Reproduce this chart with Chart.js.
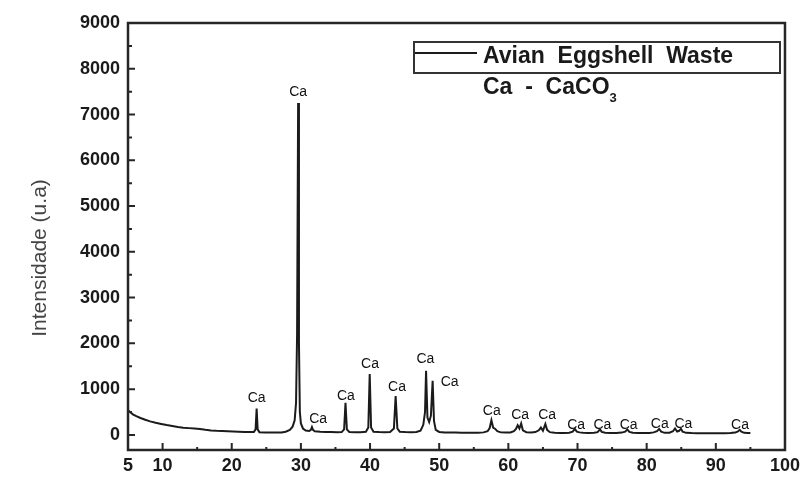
<!DOCTYPE html>
<html>
<head>
<meta charset="utf-8">
<script src="https://cdn.jsdelivr.net/npm/chart.js@4.4.0/dist/chart.umd.min.js"></script>
<style>
  html, body { margin: 0; padding: 0; background: #ffffff; }
  #wrap { width: 805px; height: 484px; }
</style>
</head>
<body>
<div id="wrap"><canvas id="xrd" width="805" height="484"></canvas></div>
<script>
// X-ray diffraction pattern of avian eggshell waste (calcite, CaCO3)
const seriesName = 'Avian Eggshell Waste';
const phaseLabel = 'Ca  -  CaCO';
const phaseSubscript = '3';
const yAxisTitle = 'Intensidade (u.a)';

// 2θ (degrees)
const twoTheta = [
  5.0, 5.3, 5.7, 6.2, 6.8, 7.5, 8.2, 9.0, 9.8, 10.6, 11.4, 12.2, 13.0, 13.8, 14.6,
  15.4, 16.2, 17.0, 17.8, 18.6, 19.4, 20.2, 21.0, 21.8, 22.6, 23.2, 23.45, 23.6, 23.75, 24.0,
  24.8, 25.6, 26.4, 27.2, 27.8, 28.4, 28.8, 29.1, 29.3, 29.45, 29.6, 29.72, 29.85, 30.0, 30.3,
  30.7, 31.2, 31.45, 31.6, 31.75, 32.0, 32.8, 33.6, 34.4, 35.2, 35.9, 36.25, 36.45, 36.65, 37.0,
  37.8, 38.6, 39.4, 39.75, 39.95, 40.15, 40.5, 41.3, 42.1, 42.9, 43.45, 43.7, 43.95, 44.3, 45.1,
  45.9, 46.7, 47.3, 47.7, 47.95, 48.1, 48.3, 48.55, 48.8, 49.05, 49.25, 49.5, 50.0, 50.8, 51.6,
  52.4, 53.2, 54.0, 54.8, 55.6, 56.4, 57.0, 57.3, 57.55, 57.8, 58.1, 58.4, 58.9, 59.6, 60.3,
  60.8, 61.1, 61.35, 61.6, 61.85, 62.1, 62.6, 63.3, 63.9, 64.4, 64.7, 65.0, 65.35, 65.6, 66.0,
  66.7, 67.4, 68.1, 68.8, 69.3, 69.6, 69.9, 70.3, 70.8, 71.6, 72.4, 72.9, 73.25, 73.5, 74.0,
  74.8, 75.6, 76.4, 76.9, 77.2, 77.5, 78.0, 78.8, 79.6, 80.4, 81.0, 81.5, 81.8, 82.1, 82.6,
  83.3, 83.8, 84.1, 84.4, 84.7, 84.95, 85.2, 85.7, 86.5, 87.3, 88.1, 88.9, 89.7, 90.5, 91.3,
  92.1, 92.8, 93.2, 93.45, 93.7, 94.1, 94.6, 95.0
];

// Intensity (arbitrary units)
const intensity = [
  540, 500, 450, 410, 370, 330, 295, 265, 240, 215, 195, 175, 158, 148, 140,
  128, 110, 95, 88, 84, 80, 74, 70, 66, 62, 62, 120, 575, 120, 60,
  55, 52, 50, 55, 70, 110, 180, 320, 700, 2200, 7250, 2000, 500, 250, 140,
  95, 85, 110, 170, 110, 80, 70, 65, 62, 60, 62, 120, 700, 120, 65,
  60, 60, 68, 160, 1330, 160, 70, 62, 60, 62, 140, 850, 140, 70, 62,
  60, 65, 90, 220, 500, 1400, 380, 280, 420, 1180, 300, 110, 65, 55, 52,
  50, 48, 48, 46, 48, 55, 80, 150, 320, 160, 130, 80, 55, 50, 52,
  80, 130, 210, 140, 250, 100, 60, 55, 62, 100, 160, 90, 240, 110, 60,
  45, 42, 42, 48, 70, 130, 70, 55, 45, 42, 45, 60, 120, 65, 45,
  42, 42, 50, 70, 120, 65, 45, 40, 40, 42, 55, 80, 130, 70, 45,
  48, 80, 140, 75, 90, 135, 70, 45, 40, 38, 38, 38, 38, 38, 38,
  40, 50, 75, 110, 70, 45, 40, 40
];

// Axis ticks
const xTickValues = [5, 10, 20, 30, 40, 50, 60, 70, 80, 90, 100];
const xMinorTicks = [15, 25, 35, 45, 55, 65, 75, 85, 95];
const yTickValues = [0, 1000, 2000, 3000, 4000, 5000, 6000, 7000, 8000, 9000];
const yMinorTicks = [500, 1500, 2500, 3500, 4500, 5500, 6500, 7500, 8500];

// Phase identification labels (anchor in 2θ / intensity)
const peakLabelText = ['Ca', 'Ca', 'Ca', 'Ca', 'Ca', 'Ca', 'Ca', 'Ca', 'Ca', 'Ca', 'Ca', 'Ca', 'Ca', 'Ca', 'Ca', 'Ca', 'Ca'];
const peakLabelTheta = [23.6, 29.6, 32.5, 36.5, 40.0, 43.9, 48.0, 51.5, 57.6, 61.7, 65.6, 69.8, 73.6, 77.4, 81.9, 85.3, 93.5];
const peakLabelIntensity = [810, 7500, 350, 850, 1550, 1050, 1660, 1160, 520, 440, 440, 220, 220, 220, 240, 240, 220];

const FONT = "'Liberation Sans', Arial, sans-serif";

const framePlugin = {
  id: 'frame',
  afterDraw(chart) {
    const { ctx, chartArea: a, scales: { x, y } } = chart;
    ctx.save();
    ctx.strokeStyle = '#262626';
    // inward tick marks
    ctx.lineWidth = 2;
    ctx.beginPath();
    yTickValues.forEach(v => { const py = y.getPixelForValue(v); ctx.moveTo(a.left, py); ctx.lineTo(a.left + 7, py); });
    yMinorTicks.forEach(v => { const py = y.getPixelForValue(v); ctx.moveTo(a.left, py); ctx.lineTo(a.left + 4, py); });
    xTickValues.forEach(v => { const px = x.getPixelForValue(v); ctx.moveTo(px, a.bottom); ctx.lineTo(px, a.bottom - 7); });
    xMinorTicks.forEach(v => { const px = x.getPixelForValue(v); ctx.moveTo(px, a.bottom); ctx.lineTo(px, a.bottom - 3); });
    ctx.stroke();
    // frame
    ctx.lineWidth = 2.5;
    ctx.strokeRect(a.left, a.top, a.right - a.left, a.bottom - a.top);

    // peak labels
    ctx.fillStyle = '#111111';
    ctx.font = '14px ' + FONT;
    ctx.textAlign = 'center';
    ctx.textBaseline = 'middle';
    peakLabelText.forEach((t, i) => {
      ctx.fillText(t, x.getPixelForValue(peakLabelTheta[i]), y.getPixelForValue(peakLabelIntensity[i]));
    });

    // legend box
    const ds = chart.data.datasets[0];
    ctx.lineWidth = 2;
    ctx.strokeStyle = '#333333';
    ctx.strokeRect(414, 42, 366, 31);
    ctx.strokeStyle = ds.borderColor;
    ctx.beginPath();
    ctx.moveTo(415, 53); ctx.lineTo(477, 53);
    ctx.stroke();
    ctx.fillStyle = '#1a1a1a';
    ctx.textAlign = 'left';
    ctx.font = 'bold 23px ' + FONT;
    ctx.fillText(ds.label.replace(/ /g, '  '), 483, 57);
    ctx.fillText(phaseLabel, 483, 88);
    const w = ctx.measureText(phaseLabel).width;
    ctx.font = 'bold 13px ' + FONT;
    ctx.fillText(phaseSubscript, 483 + w, 98);

    // y axis title
    ctx.save();
    ctx.translate(40, 258);
    ctx.rotate(-Math.PI / 2);
    ctx.textAlign = 'center';
    ctx.fillStyle = '#444444';
    ctx.font = '21px ' + FONT;
    ctx.fillText(yAxisTitle, 0, 0);
    ctx.restore();
    ctx.restore();
  }
};

new Chart(document.getElementById('xrd'), {
  type: 'line',
  data: {
    datasets: [{
      label: seriesName,
      data: twoTheta.map((t, i) => ({ x: t, y: intensity[i] })),
      borderColor: '#1b1b1b',
      borderWidth: 2,
      pointRadius: 0,
      tension: 0,
      fill: false
    }]
  },
  options: {
    responsive: false,
    animation: false,
    devicePixelRatio: 1,
    layout: { padding: { top: 23, right: 15, left: 0, bottom: 0 } },
    plugins: { legend: { display: false }, tooltip: { enabled: false } },
    scales: {
      x: {
        type: 'linear', min: 5, max: 100,
        afterBuildTicks: s => { s.ticks = xTickValues.map(v => ({ value: v })); },
        afterFit: s => { s.height = 34; },
        grid: { display: false, drawTicks: false },
        border: { display: false },
        ticks: { callback: v => String(v), font: { family: FONT, size: 18, weight: 'bold' }, color: '#1a1a1a', padding: 5, maxRotation: 0, autoSkip: false }
      },
      y: {
        type: 'linear', min: -330, max: 9000,
        afterBuildTicks: s => { s.ticks = yTickValues.map(v => ({ value: v })); },
        afterFit: s => { s.width = 128; },
        grid: { display: false, drawTicks: false },
        border: { display: false },
        ticks: { callback: v => String(v), font: { family: FONT, size: 18, weight: 'bold' }, color: '#1a1a1a', padding: 8, autoSkip: false }
      }
    }
  },
  plugins: [framePlugin]
});
</script>
</body>
</html>
